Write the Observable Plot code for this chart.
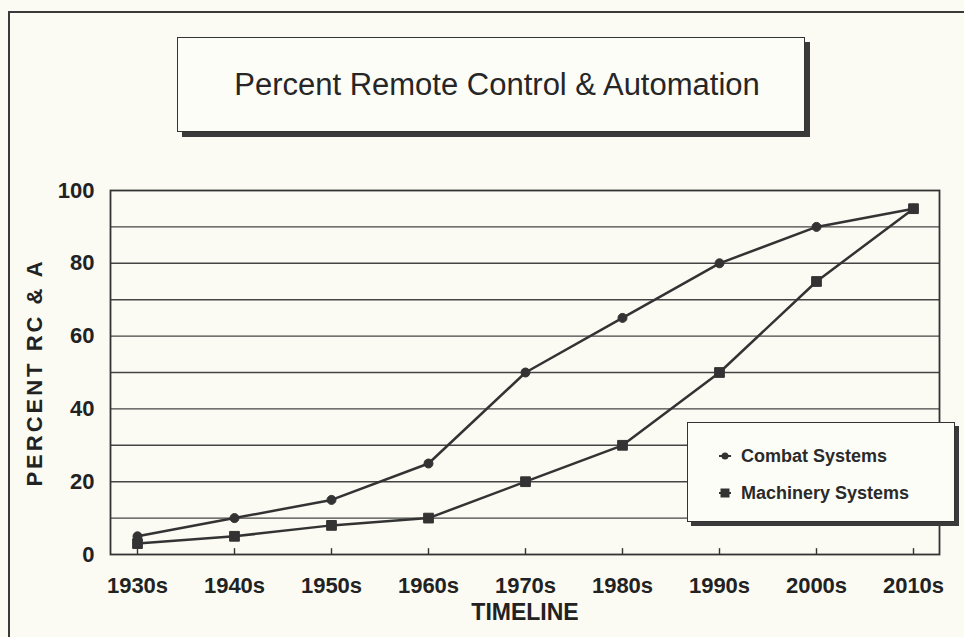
<!DOCTYPE html>
<html><head><meta charset="utf-8">
<script src="https://cdn.jsdelivr.net/npm/d3@7"></script>
<script src="https://cdn.jsdelivr.net/npm/@observablehq/plot@0.6"></script>
<style>
body{margin:0;background:#fbfbf3;}
#wrap{position:relative;width:964px;height:637px;overflow:hidden;background:#fbfbf3;font-family:"Liberation Sans",Arial,sans-serif;}
#outer{position:absolute;left:8px;top:11px;width:1000px;height:700px;border-left:2px solid #3a3a3a;border-top:2px solid #3a3a3a;}
#title{position:absolute;left:177px;top:37px;width:628px;height:95px;box-sizing:border-box;border:1.5px solid #333;box-shadow:5px 5px 0 #3a3a3a;background:#fdfdf7;display:flex;align-items:center;justify-content:center;font-size:31px;color:#262626;padding-left:12px;}
#chart{position:absolute;left:0;top:150px;}
#legend{position:absolute;left:687px;top:422px;width:266px;height:98px;border:1.5px solid #333;box-shadow:4px 4px 0 #3a3a3a;background:#fdfdf7;}
.item{position:absolute;left:30px;height:24px;display:flex;align-items:center;font-size:18px;font-weight:bold;color:#2a2a2a;}
.item svg{margin-right:9px;}
</style>
</head><body>
<div id="wrap">
  <div id="outer"></div>
  <div id="title">Percent Remote Control &amp; Automation</div>
  <div id="chart"></div>
  <div id="legend"></div>
</div>
<script>
const decades = ["1930s","1940s","1950s","1960s","1970s","1980s","1990s","2000s","2010s"];
const combat = [5, 10, 15, 25, 50, 65, 80, 90, 95];
const machinery = [3, 5, 8, 10, 20, 30, 50, 75, 95];
const seriesNames = ["Combat Systems", "Machinery Systems"];
const yTicks = [0, 20, 40, 60, 80, 100];
const gridValues = [10, 20, 30, 40, 50, 60, 70, 80, 90];
const xLabel = "TIMELINE";
const yLabel = "PERCENT RC & A";

const combatRows = decades.map((d, i) => ({decade: d, value: combat[i], series: seriesNames[0]}));
const machRows = decades.map((d, i) => ({decade: d, value: machinery[i], series: seriesNames[1]}));
const ink = "#333";

const chart = Plot.plot({
  width: 964,
  height: 487,
  marginTop: 40,
  marginBottom: 83,
  marginLeft: 110,
  marginRight: 25,
  style: {background: "transparent", fontFamily: "'Liberation Sans', Arial, sans-serif", fontSize: "22px", fontWeight: "bold", color: "#222"},
  x: {type: "point", domain: decades, padding: 0.26},
  y: {domain: [0, 100]},
  marks: [
    Plot.ruleY(gridValues, {stroke: "#444", strokeWidth: 1.4}),
    Plot.ruleX(decades, {y1: 0, y2: 1.6, stroke: ink, strokeWidth: 1.4}),
    Plot.frame({stroke: ink, strokeWidth: 1.8}),
    Plot.axisY(yTicks, {tickSize: 0, tickPadding: 16, label: null}),
    Plot.axisX(decades, {tickSize: 0, tickPadding: 23, label: null}),
    Plot.text([xLabel], {frameAnchor: "bottom", dy: 65, fontSize: 23, fontWeight: "bold", fill: "#222"}),
    Plot.text([yLabel], {frameAnchor: "left", textAnchor: "middle", dx: -76, rotate: -90, fontSize: 22, fontWeight: "bold", fill: "#222"}),
    Plot.line(combatRows, {x: "decade", y: "value", stroke: ink, strokeWidth: 2.5}),
    Plot.line(machRows, {x: "decade", y: "value", stroke: ink, strokeWidth: 2.5}),
    Plot.dot(combatRows, {x: "decade", y: "value", symbol: "circle", r: 4.5, fill: ink, stroke: ink, strokeWidth: 1}),
    Plot.dot(machRows, {x: "decade", y: "value", symbol: "square", r: 5.5, fill: ink, stroke: ink, strokeWidth: 1})
  ]
});
chart.querySelectorAll("text").forEach(t => { if (t.textContent === yLabel) t.setAttribute("letter-spacing", "3"); });
document.getElementById("chart").appendChild(chart);

const legend = document.getElementById("legend");
seriesNames.forEach((name, i) => {
  const item = document.createElement("div");
  item.className = "item";
  item.style.top = (i === 0 ? 21 : 58) + "px";
  const marker = i === 0
    ? '<svg width="14" height="12"><line x1="1" y1="6" x2="13" y2="6" stroke="#333" stroke-width="2"/><circle cx="7" cy="6" r="3.5" fill="#333"/></svg>'
    : '<svg width="14" height="12"><line x1="1" y1="6" x2="13" y2="6" stroke="#333" stroke-width="2"/><rect x="2.5" y="1.5" width="9" height="9" fill="#333"/></svg>';
  item.innerHTML = marker + "<span>" + name + "</span>";
  legend.appendChild(item);
});
</script>
</body></html>
